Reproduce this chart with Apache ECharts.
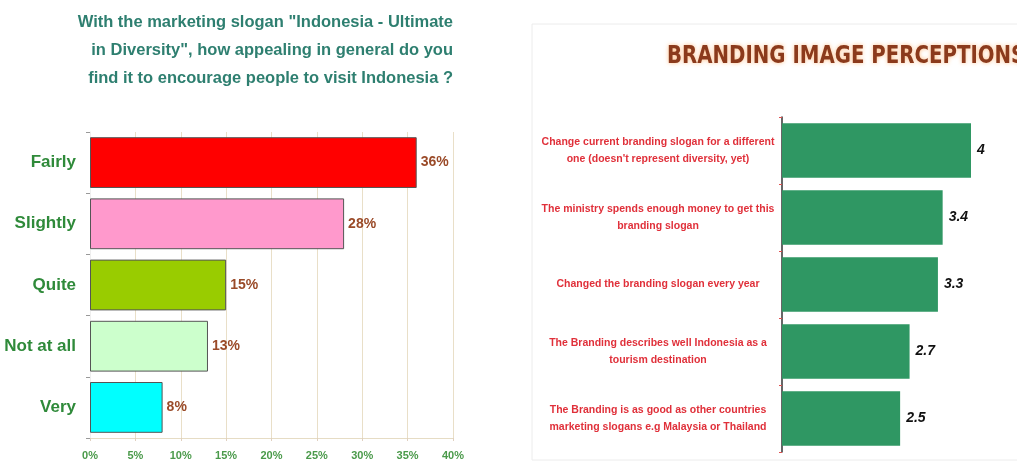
<!DOCTYPE html>
<html>
<head>
<meta charset="utf-8">
<script src="https://cdn.jsdelivr.net/npm/echarts@6/dist/echarts.min.js"></script>
<style>html,body{margin:0;padding:0;background:#fff;}#c{width:1017px;height:470px;}</style>
</head>
<body>
<div id="c"></div>
<script>
// Left chart data
const leftTitle = 'With the marketing slogan "Indonesia - Ultimate\nin Diversity", how appealing in general do you\nfind it to encourage people to visit Indonesia ?';
const leftCategories = ['Fairly', 'Slightly', 'Quite', 'Not at all', 'Very'];
const leftValues = [36, 28, 15, 13, 8];
const leftColors = ['#ff0000', '#ff99cc', '#99cc00', '#ccffcc', '#00ffff'];
const leftTicks = [0, 5, 10, 15, 20, 25, 30, 35, 40];

// Right chart data
const rightTitle = 'BRANDING IMAGE PERCEPTIONS';
const rightCategories = [
  'Change current branding slogan for a different\none (doesn\'t represent diversity, yet)',
  'The ministry spends enough money to get this\nbranding slogan',
  'Changed the branding slogan every year',
  'The Branding describes well Indonesia as a\ntourism destination',
  'The Branding is as good as other countries\nmarketing slogans e.g Malaysia or Thailand'
];
const rightValues = [4, 3.4, 3.3, 2.7, 2.5];

const chart = echarts.init(document.getElementById('c'));
chart.setOption({
  animation: false,
  backgroundColor: '#ffffff',
  graphic: [{
    type: 'rect',
    shape: {x: 532, y: 24, width: 490, height: 436},
    style: {fill: 'none', stroke: '#ececec', lineWidth: 1},
    silent: true, z: -1
  }, {
    type: 'text',
    x: 453, y: 8,
    style: {
      text: leftTitle, align: 'right', verticalAlign: 'top',
      fontFamily: 'Liberation Sans, Arial, sans-serif',
      fontWeight: 'bold', fontSize: 16.5, lineHeight: 28, fill: '#2e7f70'
    },
    silent: true
  }, {
    type: 'text',
    x: 667, y: 44,
    scaleX: 0.79,
    style: {
      text: rightTitle, align: 'left', verticalAlign: 'top',
      fontFamily: 'DejaVu Sans, sans-serif',
      fontWeight: 'bold', fontSize: 25, fill: '#8b3a1c',
      textShadowColor: 'rgba(255,150,60,0.6)', textShadowBlur: 4
    },
    silent: true
  }],
  grid: [
    {left: 90, right: 564, top: 132, height: 306},
    {left: 782, right: 46, top: 117, height: 335}
  ],
  xAxis: [{
    gridIndex: 0, type: 'value', min: 0, max: 40, interval: 5,
    axisLine: {show: true, lineStyle: {color: '#e6dcc4'}},
    axisTick: {show: true, length: 3, lineStyle: {color: '#e0d0c0'}},
    splitLine: {show: true, lineStyle: {color: '#e9dfc8', width: 1}},
    axisLabel: {
      margin: 12, color: '#4a9a4a', fontWeight: 'bold', fontSize: 11,
      fontFamily: 'Liberation Sans, sans-serif',
      formatter: v => leftTicks.includes(v) ? v + '%' : ''
    }
  }, {
    gridIndex: 1, type: 'value', min: 0, max: 4, show: false
  }],
  yAxis: [{
    gridIndex: 0, type: 'category', data: leftCategories, inverse: true,
    axisLine: {show: true, lineStyle: {color: '#eeeeee'}},
    axisTick: {show: true, length: 4, lineStyle: {color: '#999999'}},
    axisLabel: {
      margin: 14, color: '#2f8a3a', fontWeight: 'bold', fontSize: 17,
      fontFamily: 'Liberation Sans, Arial, sans-serif'
    }
  }, {
    gridIndex: 1, type: 'category', data: rightCategories, inverse: true,
    axisLine: {show: true, lineStyle: {color: '#333333', width: 1.5}},
    axisTick: {show: true, length: 3, lineStyle: {color: '#e05050'}},
    axisLabel: {
      margin: 124, align: 'center', color: '#e0303a', fontWeight: 'bold', fontSize: 10.5,
      lineHeight: 17,
      fontFamily: 'Liberation Sans, sans-serif'
    }
  }],
  series: [{
    type: 'bar', xAxisIndex: 0, yAxisIndex: 0,
    data: leftValues.map((v, i) => ({value: v, itemStyle: {color: leftColors[i]}})),
    barCategoryGap: '17%',
    itemStyle: {borderColor: '#555555', borderWidth: 1},
    label: {
      show: true, position: 'right', distance: 4, formatter: '{c}%',
      color: '#9a4a28', fontWeight: 'bold', fontSize: 14,
      fontFamily: 'Liberation Sans, Arial, sans-serif'
    }
  }, {
    type: 'bar', xAxisIndex: 1, yAxisIndex: 1,
    data: rightValues,
    barCategoryGap: '19%',
    itemStyle: {color: '#2f9763'},
    label: {
      show: true, position: 'right', distance: 6,
      color: '#111111', fontWeight: 'bold', fontStyle: 'italic', fontSize: 14,
      fontFamily: 'Liberation Sans, Arial, sans-serif'
    }
  }]
});
</script>
</body>
</html>
